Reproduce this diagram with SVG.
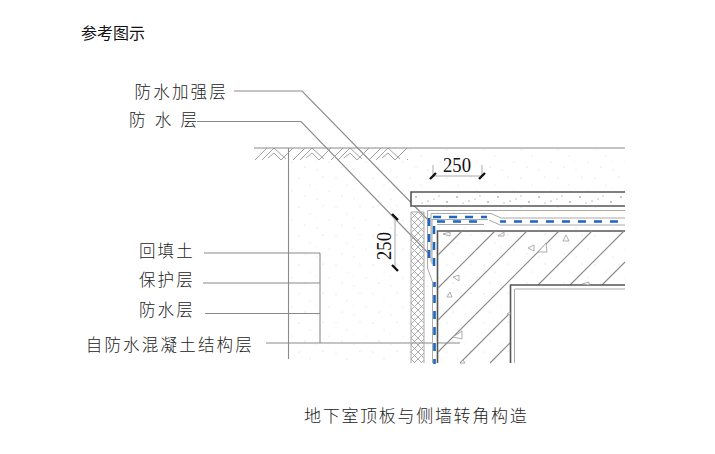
<svg xmlns="http://www.w3.org/2000/svg" width="715" height="454" viewBox="0 0 715 454">
<style>
text{font-family:"Noto Sans CJK SC","Noto Sans CJK JP",sans-serif;fill:#222;font-weight:300}
.lb{font-size:16.5px;letter-spacing:2.2px;text-anchor:end}
.dim{font-family:"Liberation Serif",serif;font-size:20px;font-weight:400;fill:#111}
.ln{fill:none;stroke:#8a8a8a;stroke-width:1.1}
.thin{fill:none;stroke:#aaa;stroke-width:1}
.dk{fill:none;stroke:#555;stroke-width:1.6}
.blue{fill:none;stroke:#1f66c4;stroke-width:2.6;stroke-dasharray:8 8}
.tri{fill:#fff;stroke:#999;stroke-width:.8}
.tick{stroke:#111;stroke-width:2.4;fill:none}
</style>
<defs>
<pattern id="sp" width="37" height="29" patternUnits="userSpaceOnUse">
<g fill="#cfcfcf"><circle cx="3" cy="4" r=".6"/><circle cx="14" cy="11" r=".5"/><circle cx="27" cy="3" r=".6"/><circle cx="33" cy="17" r=".5"/><circle cx="9" cy="22" r=".6"/><circle cx="21" cy="25" r=".5"/><circle cx="20" cy="15" r=".4"/></g>
</pattern>
<pattern id="sl" width="41" height="14" patternUnits="userSpaceOnUse" x="411" y="192">
<g fill="#666"><circle cx="5" cy="5" r=".7"/><circle cx="17" cy="9" r=".6"/><circle cx="28" cy="4" r=".5"/><circle cx="36" cy="10" r=".7"/><circle cx="11" cy="11" r=".5"/><circle cx="23" cy="7" r=".5"/></g>
</pattern>
<pattern id="xh" width="7" height="7" patternUnits="userSpaceOnUse" x="411" y="212">
<path d="M0 0L7 7M7 0L0 7" stroke="#999" stroke-width=".8" fill="none"/>
</pattern>
<pattern id="gd" width="38" height="13" patternUnits="userSpaceOnUse" x="255" y="148">
<path d="M0 12L12 0M7 12L19 0M13 10L19 5L26 12M19 0L31 11M26 12L38 0" stroke="#999" stroke-width=".9" fill="none"/>
</pattern>
</defs>

<rect width="715" height="454" fill="#fff"/>
<g id="backfill"><rect x="289" y="149" width="122" height="214" fill="url(#sp)"/><rect x="411" y="149" width="214" height="43" fill="url(#sp)"/><rect x="424" y="207" width="201" height="156" fill="url(#sp)"/></g>

<g id="connectors">
<path class="ln" d="M234 91H302L431 223"/>
<path class="ln" d="M197 121.500H301L430 255"/>
<path class="ln" d="M204 253H320M203 283H320M205 313.500H320M266 343H460M320 253V343"/>
</g>

<g id="ground">
<rect x="255" y="148" width="153" height="13" fill="url(#gd)"/>
<path class="ln" d="M254 148H625"/>
<path class="ln" d="M288.500 148V359"/>
</g>

<g id="slab">
<path d="M625 192H411V206H625" fill="#fff" stroke="none"/>
<rect x="411" y="192" width="214" height="14" fill="url(#sl)"/>
<path class="dk" d="M625 192H411V206H625"/>
</g>

<g id="insulation">
<rect x="411" y="212" width="13" height="151" fill="url(#xh)"/>
<path class="thin" d="M411 363V212H424V363"/>
</g>

<g id="waterproof">
<path fill="#fff" d="M427.500 210.500H625V226H438V363H432.500V282L427.500 268Z"/>
<path class="thin" d="M625 210.500H427.500V268L432.500 282V363"/>
<path class="thin" d="M625 218H501L491 213.500H431V262"/>
<path class="thin" d="M488 219.500H432V264M484 224.500H437"/>
<path class="thin" d="M625 225H500L489 220"/>
<path class="blue" d="M433 217H487"/>
<path class="blue" d="M437 221.500H483"/>
<path class="blue" d="M500 221.500H625" stroke-dashoffset="2"/>
<path class="blue" d="M429 218V266"/>
<path class="blue" d="M434 226V268"/>
<path class="blue" d="M434.500 282V364" stroke-dashoffset="3"/>
</g>

<g id="structure">
<path class="dk" d="M625 231H437.500V363"/>
<path class="ln" d="M438 255L462 231M438 288L495 231M438 320L527 231M438 352L559 231M460 363L510 313M538 285L592 231M490 363L510 343M570 285L624 231M602 285L625 262"/>
<rect x="511" y="286" width="114" height="77" fill="#fff"/>
<path class="dk" d="M625 285H510.500V363"/>
<path class="thin" d="M625 289H514.500V363"/>
<path class="tri" d="M443 234L450 232V236ZM498 236L504 232V236ZM528 248L534 245V251ZM538 252L546 243L547 252ZM563 241L566 235L569 241ZM453 277L459 275L459 281ZM447 297L450 292L452 297ZM453 337L462 331V339ZM582 284L589 282V285ZM507 314L510 312V315ZM460 363L463 360L465 363Z"/>
</g>

<g id="dimensions">
<path class="thin" d="M433 165V176M482 165V176M433 176H482M395 217V268"/>
<path class="tick" d="M430 179L436 173M479 179L485 173M392 214L398 220M392 265L398 271"/>
<text class="dim" x="443" y="172" textLength="28" lengthAdjust="spacingAndGlyphs">250</text>
<text class="dim" transform="translate(391 260) rotate(-90)" textLength="28" lengthAdjust="spacingAndGlyphs">250</text>
</g>

<g id="labels">
<text x="81" y="39" style="font-size:16px;fill:#111;font-weight:400">参考图示</text>
<text class="lb" x="228" y="98">防水加强层</text>
<text x="129" y="126" style="font-size:16.500px" textLength="68">防水层</text>
<text class="lb" x="195" y="257">回填土</text>
<text class="lb" x="195" y="286">保护层</text>
<text class="lb" x="195" y="316">防水层</text>
<text class="lb" x="254" y="351">自防水混凝土结构层</text>
<text x="304" y="422" style="font-size:17px;letter-spacing:1.7px">地下室顶板与侧墙转角构造</text>
</g>
</svg>
